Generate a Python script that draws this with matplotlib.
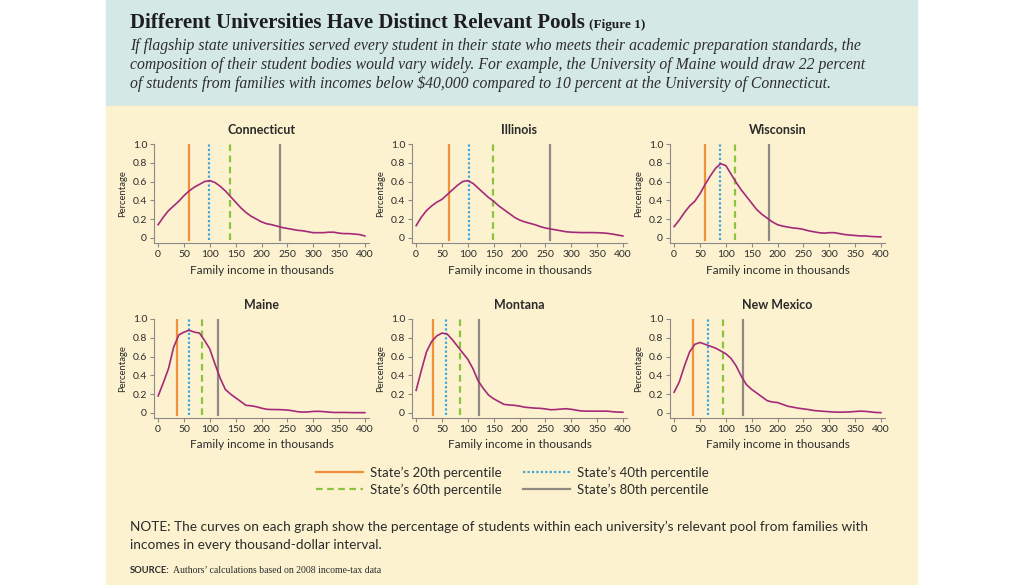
import numpy as np
import matplotlib
matplotlib.use("Agg")
import matplotlib.pyplot as plt
from matplotlib.patches import Rectangle
from matplotlib.lines import Line2D

#? ================================= dados
income = np.arange(0, 401, 10)  # mil dolares

states = ["Connecticut", "Illinois", "Wisconsin", "Maine", "Montana", "New Mexico"]

connecticut = [0.14, 0.22, 0.29, 0.34, 0.39, 0.45, 0.50, 0.54, 0.57, 0.60, 0.61, 0.59, 0.55, 0.50,
               0.44, 0.38, 0.32, 0.27, 0.23, 0.20, 0.17, 0.15, 0.14, 0.125, 0.11, 0.10, 0.09, 0.08,
               0.075, 0.065, 0.055, 0.055, 0.055, 0.06, 0.06, 0.05, 0.045, 0.045, 0.04, 0.035, 0.02]
illinois = [0.13, 0.22, 0.29, 0.34, 0.38, 0.41, 0.46, 0.51, 0.56, 0.60, 0.61, 0.58, 0.53, 0.48,
            0.43, 0.39, 0.34, 0.30, 0.26, 0.22, 0.19, 0.17, 0.155, 0.14, 0.12, 0.105, 0.095, 0.085,
            0.075, 0.065, 0.06, 0.058, 0.056, 0.056, 0.056, 0.055, 0.052, 0.048, 0.04, 0.03, 0.02]
wisconsin = [0.12, 0.19, 0.27, 0.34, 0.39, 0.47, 0.57, 0.66, 0.74, 0.79, 0.77, 0.68, 0.59, 0.51,
             0.44, 0.37, 0.30, 0.25, 0.21, 0.17, 0.14, 0.125, 0.115, 0.105, 0.10, 0.09, 0.075, 0.065,
             0.055, 0.05, 0.055, 0.055, 0.045, 0.035, 0.03, 0.025, 0.02, 0.02, 0.015, 0.012, 0.01]
maine = [0.18, 0.32, 0.47, 0.70, 0.83, 0.86, 0.88, 0.86, 0.85, 0.77, 0.68, 0.52, 0.37, 0.25,
         0.20, 0.16, 0.12, 0.08, 0.075, 0.065, 0.05, 0.038, 0.035, 0.035, 0.033, 0.03, 0.022, 0.012,
         0.008, 0.01, 0.015, 0.016, 0.013, 0.008, 0.004, 0.004, 0.004, 0.003, 0.002, 0.002, 0.002]
montana = [0.24, 0.45, 0.65, 0.76, 0.82, 0.85, 0.84, 0.78, 0.71, 0.64, 0.57, 0.47, 0.34, 0.26,
           0.19, 0.15, 0.12, 0.09, 0.084, 0.08, 0.072, 0.06, 0.055, 0.05, 0.048, 0.042, 0.033, 0.035,
           0.04, 0.044, 0.038, 0.028, 0.02, 0.018, 0.018, 0.018, 0.018, 0.018, 0.012, 0.008, 0.007]
new_mexico = [0.22, 0.33, 0.50, 0.65, 0.73, 0.75, 0.73, 0.71, 0.69, 0.66, 0.63, 0.58, 0.50, 0.39,
              0.30, 0.25, 0.21, 0.17, 0.13, 0.115, 0.11, 0.09, 0.07, 0.06, 0.05, 0.042, 0.035, 0.025,
              0.02, 0.016, 0.012, 0.008, 0.007, 0.008, 0.01, 0.014, 0.018, 0.016, 0.01, 0.004, 0.002]
curves = [connecticut, illinois, wisconsin, maine, montana, new_mexico]

# percentis 20, 40, 60, 80 de cada estado (mil dolares)
p20 = [60, 63, 60, 36, 33, 36]
p40 = [99, 103, 89, 60, 57, 65]
p60 = [140, 148, 118, 84, 84, 94]
p80 = [235, 259, 184, 115, 122, 134]

pct_labels = ["State\u2019s 20th percentile", "State\u2019s 40th percentile",
              "State\u2019s 60th percentile", "State\u2019s 80th percentile"]

title = "Different Universities Have Distinct Relevant Pools"
subtitle = ["If flagship state universities served every student in their state who meets their academic preparation standards, the",
            "composition of their student bodies would vary widely. For example, the University of Maine would draw 22 percent",
            "of students from families with incomes below $40,000 compared to 10 percent at the University of Connecticut."]
note = ["NOTE: The curves on each graph show the percentage of students within each university\u2019s relevant pool from families with",
        "incomes in every thousand-dollar interval."]
source = "Authors\u2019 calculations based on 2008 income-tax data"

#? ================================= estilo
SANS = "Lato"
SERIF = "Liberation Serif"
TXT = "#2b2b2b"
c_curve = "#a42a78"
c_p = ["#f0923a", "#3aa6de", "#8cc43f", "#8f8a84"]
ls_p = ["-", (0, (1, 1)), (0, (3, 2)), "-"]

W, H = 1024, 585
fig = plt.figure(figsize=(W / 100, H / 100), dpi=100)

def px(x, y):
    return x / W, 1 - y / H

# fundos
fig.patches.append(Rectangle((106 / W, 1 - 106 / H), (917 - 106) / W, 106 / H,
                             transform=fig.transFigure, color="#d4e8e6", zorder=-5))
fig.patches.append(Rectangle((106 / W, 0), (917 - 106) / W, 1 - 106 / H,
                             transform=fig.transFigure, color="#fdf2d0", zorder=-5))

#? ================================= graficos
lefts = [154, 412, 670]
tops = [144, 319]
ax_w, ax_h = 215, 99

for i, st in enumerate(states):
    r, c = divmod(i, 3)
    l = lefts[c]
    b = tops[r] + ax_h
    ax = fig.add_axes([l / W, 1 - b / H, ax_w / W, ax_h / H])
    ax.set_facecolor("none")
    ax.set_xlim(-8, 408)
    ax.set_ylim(-0.055, 1.0)

    for k, p in enumerate([p20, p40, p60, p80]):
        ax.axvline(p[i], ymin=0.03, ymax=1, color=c_p[k], ls=ls_p[k], lw=1.6, zorder=2)
    ax.plot(income, curves[i], color=c_curve, lw=1.2, zorder=3)

    ax.set_xticks(np.arange(0, 401, 50))
    ax.set_yticks([0, 0.2, 0.4, 0.6, 0.8, 1.0])
    ax.set_yticklabels(["0", "0.2", "0.4", "0.6", "0.8", "1.0"])
    for s in ["top", "right"]:
        ax.spines[s].set_visible(False)
    for s in ["left", "bottom"]:
        ax.spines[s].set_color("#8a8a8a")
        ax.spines[s].set_linewidth(0.8)
    ax.tick_params(colors="#8a8a8a", labelcolor=TXT, labelsize=7.5, length=3, width=0.8, pad=2)
    for t in ax.get_xticklabels() + ax.get_yticklabels():
        t.set_fontfamily(SANS)

    ax.set_title(st, fontsize=9, fontfamily=SANS, fontweight="bold", color=TXT, pad=7)
    ax.set_xlabel("Family income in thousands", fontsize=8.5, fontfamily=SANS, color=TXT, labelpad=4)
    ax.set_ylabel("Percentage", fontsize=6.8, fontfamily=SANS, color=TXT, labelpad=4)

#? ================================= legenda
handles = [Line2D([], [], color=c_p[k], ls=ls_p[k], lw=1.6) for k in range(4)]
order = [0, 2, 1, 3]
fig.legend([handles[k] for k in order], [pct_labels[k] for k in order],
           loc="center", bbox_to_anchor=px(512, 481), ncol=2, frameon=False,
           prop={"family": SANS, "size": 9.5}, handlelength=3.6, columnspacing=1.6,
           labelspacing=0.35, handletextpad=0.5, labelcolor=TXT)

#? ================================= textos
fig.canvas.draw()
rend = fig.canvas.get_renderer()

t1 = fig.text(130 / W, 1 - 28 / H, title, fontsize=15, fontfamily=SERIF, fontweight="bold",
              color="#1e1e1e", va="baseline")
bb = t1.get_window_extent(rend)
fig.text(bb.x1 / W + 4 / W, 1 - 28 / H, "(Figure 1)", fontsize=9.5, fontfamily=SERIF,
         fontweight="bold", color="#1e1e1e", va="baseline")

for j, line in enumerate(subtitle):
    fig.text(130 / W, 1 - (50 + 19 * j) / H, line, fontsize=11.3, fontfamily=SERIF,
             style="italic", color="#2e2e2e", va="baseline")

for j, line in enumerate(note):
    fig.text(130 / W, 1 - (531 + 18 * j) / H, line, fontsize=9.8, fontfamily=SANS,
             color=TXT, va="baseline")

s1 = fig.text(130 / W, 1 - 573 / H, "SOURCE:", fontsize=6.8, fontfamily=SANS,
              fontweight="bold", color=TXT, va="baseline")
bb = s1.get_window_extent(rend)
fig.text(bb.x1 / W + 3 / W, 1 - 573 / H, source, fontsize=7, fontfamily=SERIF,
         color=TXT, va="baseline")

fig.savefig("out.png", dpi=100, facecolor="white")
